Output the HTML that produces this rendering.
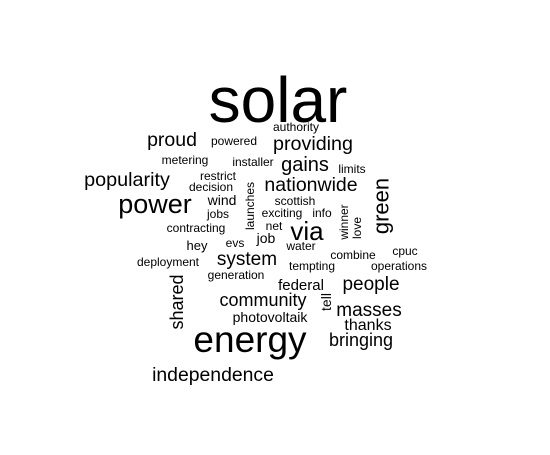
<!DOCTYPE html>
<html><head><meta charset="utf-8"><style>
html,body{margin:0;padding:0;background:#fff;}
svg text{font-family:"Liberation Sans",Arial,sans-serif;fill:#000;}
</style></head><body>
<svg id="cloud" width="550" height="450" viewBox="0 0 550 450" xmlns="http://www.w3.org/2000/svg"></svg>
<script>
// word, font size, center x, baseline y, rotated
const words = ["solar","energy","power","independence","proud","providing","popularity","nationwide","gains","via","green","system","community","people","masses","thanks","bringing","shared","photovoltaik","federal","tell","authority","powered","metering","installer","limits","restrict","decision","launches","scottish","wind","jobs","exciting","info","winner","love","net","contracting","job","hey","evs","water","deployment","generation","combine","cpuc","tempting","operations"];
const sizes = [64,37,27,19.4,19.5,19.7,19.8,19.5,20,26,22,19,18,19,19,16,18,18,14,15,14,12,12,12,12,12,12,12,12,12,14,12,12,12,12,12,12,12,14,13,12,12,12,12,12,12,12,12];
const xs = [278,250,155,213,172,313,127,311,305,307,381,247,263,371,369,368,361,177,270,301,326,296,234,185,253,352,218,211,250,295,222,218,282,322,344,357,274,196,266,197,235,301,168,236,353,405,312,399];
const ys = [122,352,213,381,146,150,186,191,171,240,206,265,306,290,316,330,346,302,322,290,302,131,145,164,166,173,180,191,206,205,205,218,217,217,222,228,230,232,243,250,247,250,266,279,259,255,270,270];
const rot = [0,0,0,0,0,0,0,0,0,0,1,0,0,0,0,0,0,1,0,0,1,0,0,0,0,0,0,0,1,0,0,0,0,0,1,1,0,0,0,0,0,0,0,0,0,0,0,0];
const svg = document.getElementById('cloud');
const NS = "http://www.w3.org/2000/svg";
words.forEach((w,i)=>{
  const t = document.createElementNS(NS,'text');
  
  
  t.setAttribute('font-size', sizes[i]);
  t.setAttribute('text-anchor','middle');
  if (rot[i]) {
    t.setAttribute('dominant-baseline','central');
    t.setAttribute('transform','translate(' + xs[i] + ',' + ys[i] + ') rotate(-90)');
    t.setAttribute('x',0); t.setAttribute('y',0);
  } else {
    t.setAttribute('x', xs[i]); t.setAttribute('y', ys[i]);
  }
  t.textContent = w;
  svg.appendChild(t);
});
</script>
</body></html>
